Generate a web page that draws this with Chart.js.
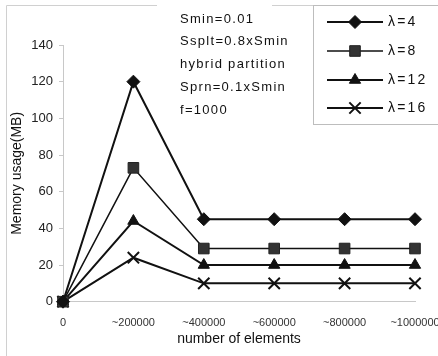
<!DOCTYPE html>
<html lang="en">
<head>
    <meta charset="UTF-8">
    <title>Memory usage</title>
    <script src="https://cdn.jsdelivr.net/npm/chart.js"></script>
    <style>
        html, body { margin: 0; padding: 0; background: #fff; }
        canvas { display: block; }
    </style>
</head>
<body>
    <canvas id="memChart" width="438" height="356"></canvas>

    <script>
        // Data
        const categories = ['0', '~200000', '~400000', '~600000', '~800000', '~1000000'];
        const seriesNames = ['λ=4', 'λ=8', 'λ=12', 'λ=16'];
        const lambda4 = [0, 120, 45, 45, 45, 45];
        const lambda8 = [0, 73, 29, 29, 29, 29];
        const lambda12 = [0, 44, 20, 20, 20, 20];
        const lambda16 = [0, 24, 10, 10, 10, 10];
        const noteLines = ['Smin=0.01', 'Ssplt=0.8xSmin', 'hybrid partition', 'Sprn=0.1xSmin', 'f=1000'];

        const FONT = '"Liberation Sans", Arial, sans-serif';

        function series(label, data, style, radius, opts) {
            return Object.assign({
                label: label,
                data: data,
                borderColor: '#111',
                borderWidth: 2,
                pointStyle: style,
                pointRadius: radius,
                pointHoverRadius: radius,
                pointBackgroundColor: '#111',
                pointBorderColor: '#111',
                pointBorderWidth: 1,
                tension: 0,
                clip: false
            }, opts || {});
        }

        const datasets = [
            series(seriesNames[0], lambda4, 'rectRot', 6.5),
            series(seriesNames[1], lambda8, 'rect', 7.5, { borderWidth: 1.5, pointBackgroundColor: '#333', pointBorderColor: '#222' }),
            series(seriesNames[2], lambda12, 'triangle', 6.5),
            series(seriesNames[3], lambda16, 'crossRot', 8, { pointBorderWidth: 2 })
        ];

        // fallback marker drawer in case helpers are not exposed
        function marker(ctx, style, x, y, r) {
            if (Chart.helpers && Chart.helpers.drawPoint) {
                Chart.helpers.drawPoint(ctx, { pointStyle: style, radius: r, rotation: 0, borderWidth: ctx.lineWidth }, x, y);
                return;
            }
            ctx.beginPath();
            ctx.arc(x, y, r, 0, Math.PI * 2);
            ctx.fill();
        }

        // frame, parameter notes and boxed legend
        const decorations = {
            id: 'decorations',
            afterDraw(chart) {
                const ctx = chart.ctx;
                ctx.save();

                ctx.strokeStyle = '#d0d0d0';
                ctx.lineWidth = 1;
                ctx.beginPath();
                ctx.moveTo(6.5, 356);
                ctx.lineTo(6.5, 5.5);
                ctx.lineTo(157, 5.5);
                ctx.moveTo(272, 5.5);
                ctx.lineTo(438, 5.5);
                ctx.stroke();

                ctx.fillStyle = '#111';
                ctx.font = '13px ' + FONT;
                ctx.textBaseline = 'middle';
                ctx.textAlign = 'left';
                ctx.letterSpacing = '1.3px';
                noteLines.forEach((line, i) => {
                    ctx.fillText(line, 180, 19 + i * 22.8);
                });

                // legend box
                ctx.letterSpacing = '0px';
                ctx.strokeStyle = '#bdbdbd';
                ctx.lineWidth = 1;
                ctx.strokeRect(313.5, 5.5, 140, 119);

                const rows = [22, 51, 80, 108];
                chart.data.datasets.forEach((ds, i) => {
                    const y = rows[i];
                    ctx.strokeStyle = '#111';
                    ctx.lineWidth = ds.borderWidth;
                    ctx.beginPath();
                    ctx.moveTo(327, y);
                    ctx.lineTo(383, y);
                    ctx.stroke();

                    ctx.fillStyle = ds.pointBackgroundColor;
                    ctx.strokeStyle = ds.pointBorderColor;
                    ctx.lineWidth = ds.pointBorderWidth;
                    marker(ctx, ds.pointStyle, 355, y, ds.pointRadius);

                    ctx.fillStyle = '#111';
                    ctx.font = '14px ' + FONT;
                    ctx.letterSpacing = '2.2px';
                    ctx.textBaseline = 'middle';
                    ctx.fillText(ds.label, 388, y);
                    ctx.letterSpacing = '0px';
                });

                ctx.restore();
            }
        };

        new Chart(document.getElementById('memChart').getContext('2d'), {
            type: 'line',
            data: { labels: categories, datasets: datasets },
            options: {
                responsive: false,
                devicePixelRatio: 1,
                animation: false,
                layout: { padding: { top: 45, right: 23, left: 0, bottom: 0 } },
                plugins: {
                    legend: { display: false },
                    tooltip: { enabled: false }
                },
                scales: {
                    x: {
                        type: 'category',
                        offset: false,
                        grid: { drawOnChartArea: false, drawTicks: false },
                        border: { color: '#c8c8c8' },
                        ticks: {
                            autoSkip: false,
                            maxRotation: 0,
                            minRotation: 0,
                            padding: 15,
                            color: '#333',
                            font: { family: FONT, size: 11 }
                        },
                        title: {
                            display: true,
                            text: 'number of elements',
                            color: '#111',
                            font: { family: FONT, size: 14 },
                            padding: { top: 0, bottom: 8 }
                        },
                        afterFit(scale) {
                            // let the last label run off the edge instead of shrinking the plot
                            scale.height = 54.3;
                            scale.paddingLeft = 0;
                            scale.paddingRight = 0;
                        }
                    },
                    y: {
                        min: 0,
                        max: 140,
                        grid: { drawOnChartArea: false, tickLength: 4, color: '#c8c8c8' },
                        border: { color: '#c8c8c8' },
                        ticks: {
                            stepSize: 20,
                            padding: 6,
                            color: '#222',
                            font: { family: FONT, size: 13 }
                        },
                        title: {
                            display: true,
                            text: 'Memory usage(MB)',
                            color: '#111',
                            font: { family: FONT, size: 14 },
                            padding: { top: 9, bottom: 0 }
                        },
                        afterFit(scale) { scale.width = 63; }
                    }
                }
            },
            plugins: [decorations]
        });
    </script>
</body>
</html>
